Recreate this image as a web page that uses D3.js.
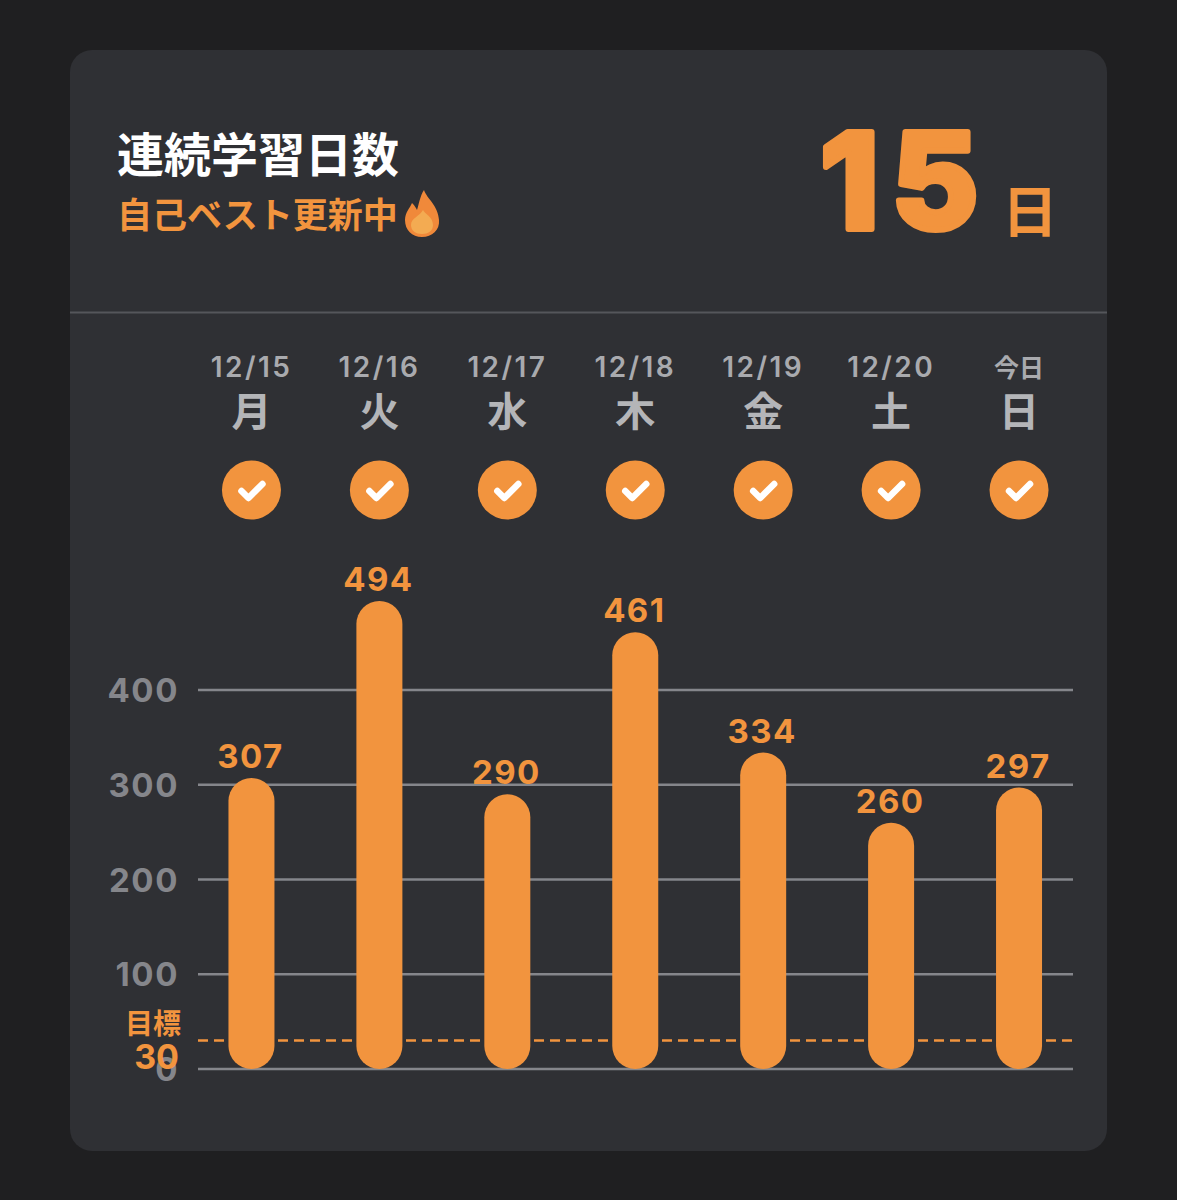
<!DOCTYPE html>
<html lang="ja">
<head>
<meta charset="utf-8">
<script src="https://cdn.jsdelivr.net/npm/d3@7"></script>
<style>
  html, body { margin: 0; background: #1f1f21; }
  svg { display: block; }
  text { font-family: Inter, "Noto Sans CJK JP", sans-serif; }
  .cjk { font-family: "Noto Sans CJK JP", sans-serif; }
</style>
</head>
<body>
<svg id="chart" width="1177" height="1200"></svg>
<script>
// Study streak card: seven days of study minutes against a daily goal.
const dates = ["12/15", "12/16", "12/17", "12/18", "12/19", "12/20", "今日"];
const weekdays = ["月", "火", "水", "木", "金", "土", "日"];
const minutes = [307, 494, 290, 461, 334, 260, 297];
const yTicks = [0, 100, 200, 300, 400];
const goal = 30;
const streak = "15";

const ORANGE = "#f2943e";
const svg = d3.select("#chart");

const x = d3.scaleBand().domain(d3.range(dates.length)).range([187.5, 1083]).padding(0);
const y = d3.scaleLinear().domain([0, 400]).range([1069, 690]);
const barWidth = 46;
const cx = i => x(i) + x.bandwidth() / 2;

// Card and header
svg.append("rect").attr("x", 70).attr("y", 50).attr("width", 1037).attr("height", 1101)
  .attr("rx", 22).attr("fill", "#2f3034");
svg.append("line").attr("x1", 70).attr("x2", 1107).attr("y1", 312.5).attr("y2", 312.5)
  .attr("stroke", "#55565b").attr("stroke-width", 2);

svg.append("text").attr("class", "cjk").attr("x", 117).attr("y", 172)
  .attr("font-size", 47).attr("font-weight", 700).attr("fill", "#fff").text("連続学習日数");
svg.append("text").attr("class", "cjk").attr("x", 117).attr("y", 228)
  .attr("font-size", 35).attr("font-weight", 700).attr("fill", ORANGE).text("自己ベスト更新中");

// Flame icon beside the subtitle
const flame = svg.append("g").attr("transform", "translate(422,214)");
flame.append("path").attr("fill", "#f0893a")
  .attr("d", "M2,-24 C5,-15 16,-9 17,6 C18,16 10,23 0,23 C-10,23 -17,16 -17,6 C-17,-2 -12,-6 -10,-11 C-7,-8 -6,-6 -5,-4 C-3,-10 -2,-18 2,-24 Z");
flame.append("path").attr("fill", "#f3ab52")
  .attr("d", "M1,-4 C3,0 11,3 11,11 C11,17 6,20 0,20 C-6,20 -11,17 -11,11 C-11,4 -2,2 1,-4 Z");

// Streak count, stroked with round joins to give the numerals soft corners
svg.append("text").attr("x", 820).attr("y", 229)
  .attr("font-family", "Inter").attr("font-size", 134).attr("font-weight", 800)
  .attr("letter-spacing", 12)
  .attr("fill", ORANGE).attr("stroke", ORANGE).attr("stroke-width", 6)
  .attr("stroke-linejoin", "round").attr("stroke-linecap", "round").text(streak);
svg.append("text").attr("class", "cjk").attr("x", 1002).attr("y", 232)
  .attr("font-size", 56).attr("font-weight", 700).attr("fill", ORANGE).text("日");

// Day headers and completion badges
const days = svg.append("g").selectAll("g").data(dates).join("g")
  .attr("transform", (d, i) => `translate(${cx(i)},0)`);
days.append("text").attr("text-anchor", "middle").attr("y", 377)
  .attr("font-size", (d, i) => i === 6 ? 25 : 28).attr("font-weight", 600)
  .attr("letter-spacing", (d, i) => i === 6 ? 0 : 2.4)
  .attr("class", (d, i) => i === 6 ? "cjk" : null)
  .attr("fill", "#a9aaae").text(d => d);
days.append("text").attr("class", "cjk").attr("text-anchor", "middle").attr("y", 426)
  .attr("font-size", 40).attr("font-weight", 700).attr("fill", "#b4b5b8")
  .text((d, i) => weekdays[i]);
days.append("circle").attr("cy", 490).attr("r", 29.5).attr("fill", ORANGE);
days.append("path").attr("d", "M-10,491 L-3,498 L11,484")
  .attr("fill", "none").attr("stroke", "#fff").attr("stroke-width", 6.5)
  .attr("stroke-linecap", "round").attr("stroke-linejoin", "round");

// Grid lines and value axis labels
const grid = svg.append("g");
grid.selectAll("line").data(yTicks).join("line")
  .attr("x1", 198).attr("x2", 1073)
  .attr("y1", d => y(d)).attr("y2", d => y(d))
  .attr("stroke", "#85868b").attr("stroke-width", 2.5);
grid.selectAll("text").data(yTicks).join("text")
  .attr("x", 179).attr("y", d => y(d) + 12).attr("text-anchor", "end")
  .attr("font-size", 33).attr("font-weight", 700).attr("letter-spacing", 1.6)
  .attr("fill", "#85868b").text(d => d);

// Daily goal line and its label
svg.append("line").attr("x1", 198).attr("x2", 1073)
  .attr("y1", y(goal)).attr("y2", y(goal))
  .attr("stroke", ORANGE).attr("stroke-width", 2.5).attr("stroke-dasharray", "10 6");
svg.append("text").attr("class", "cjk").attr("x", 181).attr("y", 1034).attr("text-anchor", "end")
  .attr("font-size", 28).attr("font-weight", 700).attr("fill", ORANGE).text("目標");
svg.append("text").attr("x", 179).attr("y", 1069).attr("text-anchor", "end")
  .attr("font-size", 34).attr("font-weight", 700).attr("fill", ORANGE).text(goal);

// Bars with fully rounded tops and bottoms, plus their value labels
svg.append("g").selectAll("rect").data(minutes).join("rect")
  .attr("x", (d, i) => cx(i) - barWidth / 2).attr("width", barWidth)
  .attr("y", d => y(d)).attr("height", d => y(0) - y(d))
  .attr("rx", barWidth / 2).attr("fill", ORANGE);
svg.append("g").selectAll("text").data(minutes).join("text")
  .attr("x", (d, i) => cx(i) - 1).attr("y", d => y(d) - 10).attr("text-anchor", "middle")
  .attr("font-size", 33).attr("font-weight", 700).attr("letter-spacing", 1.4)
  .attr("fill", ORANGE).text(d => d);
</script>
</body>
</html>
